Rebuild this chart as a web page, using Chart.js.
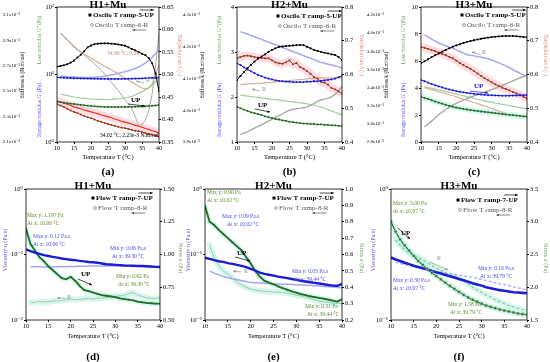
<!DOCTYPE html>
<html lang="en">
<head>
<meta charset="UTF-8">
<title>Oscillatory and flow temperature ramps</title>
<style>
  body { margin: 0; background: #fff; }
  #fig { position: relative; width: 550px; height: 362px; overflow: hidden; }
  canvas { position: absolute; }
</style>
<script src="https://cdn.jsdelivr.net/npm/chart.js"></script>
</head>
<body>
<div id="fig">
  <canvas id="pa" width="183" height="180" style="left:0;top:0"></canvas>
  <canvas id="pb" width="183" height="180" style="left:183px;top:0"></canvas>
  <canvas id="pc" width="184" height="180" style="left:366px;top:0"></canvas>
  <canvas id="pd" width="183" height="182" style="left:0;top:180px"></canvas>
  <canvas id="pe" width="183" height="182" style="left:183px;top:180px"></canvas>
  <canvas id="pf" width="184" height="182" style="left:366px;top:180px"></canvas>
</div>
<script>
const temp = [10,11,12,13,14,15,16,17,18,19,20,21,22,23,24,25,26,27,28,29,30,31,32,33,34,35,36,37,38,39,40];
const tempTicks = [10,15,20,25,30,35,40];

// (a) H1+Mu, oscillatory ramp (stiffness in 1e-3 N.m/rad)
const aStiffUp = [2.693,2.698,2.704,2.712,2.725,2.742,2.765,2.787,2.815,2.845,2.860,2.870,2.874,2.876,2.877,2.876,2.874,2.872,2.868,2.863,2.858,2.846,2.833,2.822,2.808,2.795,2.784,2.760,2.720,2.640,2.500];
const aStiffR = [null,2.96,2.93,2.90,2.88,2.855,2.83,2.81,2.785,2.76,2.74,2.715,2.69,2.665,2.635,2.605,2.57,2.54,2.505,2.47,2.435,2.40,2.365,2.30,2.23,2.24,2.27,2.35,2.48,2.70,2.96];
const aGpUp = [9.05,9.0,8.95,8.9,8.85,8.8,8.78,8.75,8.72,8.7,8.68,8.66,8.65,8.63,8.62,8.6,8.6,8.6,8.6,8.62,8.63,8.65,8.67,8.7,8.72,8.75,8.8,8.85,8.9,8.95,9.0];
const aGpR = [null,9.5,9.4,9.3,9.2,9.18,9.1,9.05,9.03,9.03,9.03,9.1,9.2,9.3,9.4,9.6,9.9,10.1,10.4,10.7,11.0,11.4,11.8,12.3,12.9,13.8,14.8,16,18,20.5,23];
const aGppUp = [3.98,3.9,3.83,3.76,3.7,3.66,3.6,3.55,3.5,3.45,3.41,3.38,3.35,3.33,3.31,3.3,3.3,3.3,3.3,3.3,3.3,3.31,3.32,3.33,3.35,3.36,3.38,3.41,3.44,3.48,3.53];
const aGppR = [null,5.14,5.0,4.88,4.75,4.64,4.56,4.48,4.42,4.37,4.33,4.3,4.28,4.27,4.26,4.26,4.28,4.32,4.37,4.43,4.49,4.6,4.75,4.97,5.25,5.55,5.9,6.4,7.0,7.8,8.9];
const aTanUp = [0.434,0.431,0.428,0.424,0.42,0.417,0.414,0.411,0.408,0.405,0.403,0.4,0.397,0.395,0.392,0.39,0.388,0.386,0.384,0.382,0.381,0.379,0.377,0.375,0.374,0.372,0.37,0.368,0.366,0.364,0.362];
const aTanAvg = [0.441,0.439,0.436,0.434,0.431,0.428,0.426,0.424,0.421,0.419,0.417,0.415,0.413,0.41,0.408,0.406,0.404,0.401,0.399,0.396,0.394,0.392,0.39,0.387,0.385,0.383,0.38,0.378,0.375,0.373,0.37];
const aTanR = [null,0.592,0.585,0.577,0.569,0.561,0.555,0.55,0.545,0.541,0.536,0.532,0.527,0.523,0.518,0.514,0.51,0.506,0.501,0.497,0.492,0.488,0.483,0.479,0.474,0.47,0.468,0.47,0.479,0.499,0.521];
const aStiffTicks = [2.1,2.3,2.5,2.7,2.9,3.1];
const aModTicks = [1,10,100];
const aTanTicks = [0.35,0.40,0.45,0.50,0.55,0.60,0.65];

// (b) H2+Mu
const bStiffUp = [4.095,4.108,4.12,4.133,4.143,4.153,4.163,4.169,4.176,4.184,4.19,4.195,4.2,4.201,4.202,4.203,4.204,4.205,4.206,4.205,4.2,4.195,4.19,4.187,4.184,4.181,4.179,4.176,4.174,4.168,4.158];
const bStiffR = [null,3.924,3.928,3.933,3.938,3.944,3.949,3.954,3.96,3.966,3.972,3.978,3.983,3.989,3.995,4.0,4.003,4.005,4.006,4.008,4.01,4.015,4.022,4.028,4.033,4.035,4.038,4.042,4.05,4.062,4.075];
const bGpUp = [2.75,2.71,2.66,2.61,2.57,2.53,2.49,2.46,2.43,2.41,2.39,2.37,2.36,2.35,2.34,2.34,2.33,2.33,2.33,2.33,2.34,2.34,2.35,2.35,2.36,2.37,2.38,2.39,2.41,2.44,2.47];
const bGpR = [null,3.45,3.42,3.4,3.37,3.34,3.31,3.28,3.25,3.22,3.19,3.16,3.13,3.1,3.07,3.04,3.01,2.98,2.95,2.92,2.89,2.86,2.83,2.8,2.77,2.75,2.73,2.71,2.69,2.67,2.64];
const bGppUp = [1.78,1.75,1.72,1.69,1.66,1.64,1.62,1.6,1.57,1.55,1.53,1.51,1.5,1.48,1.47,1.45,1.44,1.43,1.42,1.41,1.41,1.4,1.4,1.39,1.39,1.38,1.38,1.37,1.37,1.36,1.36];
const bGppR = [null,2.04,2.03,2.02,2.01,2.0,1.99,1.98,1.97,1.96,1.95,1.94,1.93,1.92,1.91,1.9,1.89,1.88,1.87,1.86,1.85,1.83,1.82,1.8,1.77,1.75,1.72,1.69,1.66,1.63,1.6];
const bTanUp = [0.648,0.652,0.655,0.656,0.654,0.652,0.65,0.649,0.648,0.648,0.642,0.636,0.633,0.632,0.636,0.642,0.63,0.634,0.622,0.617,0.61,0.602,0.592,0.588,0.578,0.576,0.57,0.56,0.556,0.55,0.544];
const bTanR = [null,0.569,0.571,0.572,0.573,0.573,0.574,0.574,0.575,0.576,0.577,0.578,0.579,0.58,0.581,0.582,0.583,0.584,0.585,0.586,0.587,0.588,0.588,0.589,0.59,0.59,0.59,0.59,0.59,0.59,0.59];
const bStiffTicks = [3.9,4.0,4.1,4.2,4.3];
const bModTicks = [1,2,3,4];
const bTanTicks = [0.4,0.5,0.6,0.7,0.8];

// (c) H3+Mu
const cStiffUp = [3.668,3.69,3.712,3.735,3.756,3.776,3.796,3.815,3.833,3.851,3.865,3.878,3.891,3.903,3.913,3.922,3.93,3.938,3.945,3.951,3.956,3.96,3.964,3.967,3.969,3.969,3.968,3.966,3.962,3.958,3.954];
const cStiffR = [null,2.965,2.995,3.03,3.065,3.1,3.13,3.158,3.184,3.208,3.227,3.245,3.262,3.278,3.293,3.308,3.323,3.337,3.35,3.362,3.377,3.392,3.408,3.423,3.44,3.457,3.474,3.49,3.506,3.522,3.539];
const cGpUp = [4.6,4.5,4.4,4.3,4.2,4.12,4.04,3.96,3.89,3.83,3.77,3.72,3.68,3.64,3.6,3.57,3.54,3.51,3.49,3.47,3.46,3.45,3.44,3.43,3.43,3.43,3.44,3.45,3.46,3.47,3.48];
const cGpR = [null,7.93,7.78,7.62,7.47,7.33,7.23,7.13,7.03,6.94,6.82,6.7,6.58,6.47,6.43,6.38,6.33,6.28,6.23,6.17,6.07,5.96,5.86,5.75,5.64,5.5,5.36,5.22,5.09,4.97,4.84];
const cGppUp = [3.36,3.27,3.18,3.09,3.0,2.92,2.84,2.76,2.68,2.61,2.55,2.5,2.45,2.41,2.37,2.33,2.3,2.26,2.23,2.2,2.17,2.14,2.11,2.07,2.04,2.01,1.99,1.96,1.93,1.9,1.88];
const cGppR = [null,4.1,4.04,3.98,3.92,3.86,3.8,3.73,3.67,3.61,3.55,3.48,3.42,3.36,3.3,3.24,3.18,3.11,3.05,2.99,2.94,2.89,2.84,2.79,2.74,2.69,2.64,2.59,2.54,2.49,2.44];
const cTanUp = [0.682,0.679,0.676,0.672,0.669,0.665,0.661,0.657,0.652,0.648,0.641,0.634,0.628,0.622,0.617,0.61,0.603,0.596,0.589,0.583,0.577,0.571,0.566,0.561,0.557,0.553,0.548,0.544,0.54,0.534,0.529];
const cTanR = [null,0.561,0.558,0.555,0.552,0.549,0.546,0.543,0.54,0.537,0.534,0.53,0.527,0.524,0.52,0.517,0.514,0.51,0.507,0.503,0.5,0.496,0.492,0.488,0.484,null,null,null,null,null,null];
const cStiffTicks = [2.8,3.0,3.2,3.4,3.6,3.8,4.0,4.2];
const cModTicks = [0,2,4,6,8,10];
const cTanTicks = [0.4,0.5,0.6,0.7,0.8];

// (d) H1+Mu, flow ramp
const dViscUp = [0.12,0.113,0.107,0.102,0.098,0.095,0.092,0.0895,0.087,0.085,0.083,0.082,0.08,0.0785,0.077,0.0762,0.075,0.073,0.071,0.0703,0.0695,0.0688,0.068,0.0677,0.0672,0.0669,0.0666,0.066,0.0655,0.0648,0.0645];
const dViscR = [null,0.065,0.065,0.0648,0.0646,0.0645,0.0645,0.0648,0.065,0.0652,0.0655,0.0658,0.066,0.0662,0.0665,0.0667,0.0668,0.067,0.067,0.067,0.067,0.0668,0.0666,0.0665,0.0662,0.066,0.0656,0.0652,0.0648,0.0645,0.064];
const dStressUp = [1.197,1.08,1.03,0.98,0.95,0.91,0.88,0.85,0.82,0.81,0.83,0.80,0.76,0.73,0.72,0.71,0.70,0.69,0.685,0.68,0.675,0.665,0.66,0.655,0.65,0.64,0.635,0.63,0.628,0.625,0.625];
const dStressR = [null,0.632,0.635,0.64,0.638,0.64,0.645,0.645,0.65,0.655,0.66,0.655,0.658,0.66,0.665,0.66,0.665,0.668,0.67,0.675,0.68,0.685,0.69,0.70,0.71,0.69,0.68,0.67,0.665,0.665,0.67];
const dViscTicks = [0.01,0.1,1];
const dStressTicks = [0.5,0.75,1.0,1.25,1.5];

// (e) H2+Mu
const eViscUp = [0.0895,0.0855,0.082,0.079,0.077,0.074,0.072,0.0695,0.067,0.064,0.0605,0.057,0.053,0.0505,0.049,0.0475,0.046,0.0448,0.0435,0.0422,0.041,0.0398,0.0387,0.0377,0.0368,0.036,0.0352,0.0342,0.0335,0.0333,0.0355];
const eViscR = [null,0.056,0.052,0.049,0.046,0.0442,0.0428,0.0413,0.04,0.0388,0.0375,0.037,0.0366,0.0363,0.036,0.0358,0.0355,0.0352,0.035,0.0347,0.0344,0.0341,0.0338,0.0335,0.0333,0.033,0.0326,0.0322,0.0318,0.0314,0.031];
const eStressUp = [0.896,0.80,0.78,0.75,0.725,0.70,0.675,0.65,0.625,0.585,0.545,0.50,0.465,0.44,0.428,0.418,0.405,0.395,0.385,0.375,0.367,0.358,0.352,0.345,0.34,0.335,0.33,0.325,0.318,0.312,0.326];
const eStressR = [null,0.66,0.58,0.53,0.50,0.479,0.455,0.432,0.415,0.40,0.388,0.383,0.378,0.376,0.373,0.371,0.369,0.367,0.364,0.358,0.352,0.347,0.34,0.33,0.322,0.315,0.311,0.307,0.303,0.301,0.30];
const eViscTicks = [0.01,0.1,1];
const eStressTicks = [0.2,0.3,0.4,0.5,0.6,0.7,0.8,0.9,1.0];

// (f) H3+Mu
const fViscUp = [0.30,0.29,0.282,0.274,0.267,0.26,0.254,0.248,0.243,0.237,0.231,0.226,0.221,0.216,0.211,0.206,0.201,0.196,0.191,0.187,0.183,0.178,0.175,0.172,0.169,0.167,0.165,0.163,0.162,0.161,0.16];
const fViscR = [null,0.275,0.27,0.265,0.26,0.255,0.25,0.246,0.242,0.238,0.235,0.232,0.229,0.226,0.223,0.22,0.217,0.214,0.211,0.208,0.204,0.2,0.196,0.192,0.189,0.186,0.183,0.179,0.176,0.173,0.17];
const fStressUp = [3.0,2.85,2.73,2.64,2.56,2.48,2.40,2.34,2.28,2.22,2.17,2.12,2.07,2.02,1.975,1.93,1.885,1.845,1.81,1.78,1.75,1.72,1.70,1.68,1.66,1.645,1.63,1.615,1.60,1.59,1.58];
const fStressR = [null,2.72,2.64,2.57,2.52,2.48,2.46,2.42,2.38,2.33,2.29,2.26,2.22,2.19,2.17,2.13,2.09,2.05,2.0,1.96,1.92,1.88,1.85,1.81,1.78,1.75,1.72,1.70,1.68,1.66,1.65];
const fViscTicks = [0.1,1];
const fStressTicks = [1.5,2.0,2.5,3.0,3.5];

const SERIF = '"Liberation Serif", "DejaVu Serif", serif';
const BLUE = '#1c1cd6', LAV = '#a6a6f2', DKGREEN = '#256b1e', LTGREEN = '#a3cc9a';
const GRAY = '#a8a8a8', BROWN = '#9c3c1a', RED = '#e8321e', TAN = '#d8b098';
const PINK = 'rgba(255,176,196,0.45)', CYAN = 'rgba(150,238,222,0.4)';
const BLUE_T = '#4a4ae6', GREEN_T = '#6aa25e', TAN_T = '#cf8a7c', OLIVE = '#5f8a2e';

const pts = v => temp.map((t, i) => ({x: t, y: v[i]}));
const sup = {'-': '⁻', '0': '⁰', '1': '¹', '2': '²', '3': '³'};
const pow10 = v => '10' + String(Math.round(Math.log10(v))).split('').map(c => sup[c]).join('');

function upLine(v, color, axis, extra) {
  return Object.assign({data: pts(v), yAxisID: axis, borderColor: color, backgroundColor: color,
    borderWidth: 1, pointStyle: 'rect', pointRadius: 1.3, pointBorderWidth: 0, pointHoverRadius: 0}, extra);
}
function rLine(v, color, axis, extra) {
  return Object.assign({data: pts(v), yAxisID: axis, borderColor: color, backgroundColor: color,
    borderWidth: 1, pointRadius: 0}, extra);
}
function band(v, color, axis, w) {
  return {data: pts(v), yAxisID: axis, borderColor: color, borderWidth: w, pointRadius: 0,
    borderCapStyle: 'round', borderJoinStyle: 'round'};
}

function xAxis(h) {
  return {
    type: 'linear', min: 10, max: 40,
    afterBuildTicks: s => { s.ticks = tempTicks.map(v => ({value: v})); },
    afterFit: s => { s.height = h; },
    ticks: {font: {family: SERIF, size: 6.5}, color: '#000', padding: 0, maxRotation: 0, autoSkip: false},
    grid: {display: true, drawOnChartArea: false, tickLength: 2, color: '#000'},
    border: {display: false},
    title: {display: true, text: 'Temperature T (°C)', font: {family: SERIF, size: 6.5}, color: '#000', padding: 0}
  };
}
function yAxis(o) {
  return {
    type: o.type || 'linear', position: o.pos, min: o.min, max: o.max, weight: o.weight || 0,
    afterBuildTicks: s => { s.ticks = o.ticks.map(v => ({value: v})); },
    afterFit: s => { s.width = o.width; },
    ticks: {font: {family: SERIF, size: o.size || 6.5}, color: '#000', padding: 1, autoSkip: false, callback: o.fmt},
    grid: {display: !o.plain, drawOnChartArea: false, drawTicks: !o.plain, tickLength: 2, color: '#000'},
    border: {display: false}
  };
}
// stiffness axis labels sit a little lower than the plot top
const stiffMax = t => t[t.length - 1] + (t[t.length - 1] - t[0]) * 8 / 127;
const stiffFmt = v => v.toFixed(1) + 'x10⁻³';

function fontStr(s, b) { return (b ? 'bold ' : '') + s + 'px ' + SERIF; }

function decoPlugin(spec) {
  return {
    id: 'deco',
    afterDraw(chart) {
      const ctx = chart.ctx, a = chart.chartArea, ox = spec.ox, oy = spec.oy;
      ctx.save();
      ctx.strokeStyle = '#000'; ctx.lineWidth = 0.8;
      ctx.strokeRect(a.left, a.top, a.right - a.left, a.bottom - a.top);
      ctx.textBaseline = 'middle';
      for (const t of spec.texts) {
        ctx.save();
        ctx.font = fontStr(t.s || 5.5, t.b);
        ctx.fillStyle = t.c || '#000';
        ctx.textAlign = t.a || (t.rot ? 'center' : 'left');
        ctx.translate(t.x - ox, t.y - oy);
        if (t.rot) ctx.rotate(t.rot * Math.PI / 180);
        ctx.fillText(t.t, 0, 0);
        ctx.restore();
      }
      const arrow = (x1, y1, x2, y2, c) => {
        ctx.strokeStyle = c || '#000'; ctx.fillStyle = c || '#000'; ctx.lineWidth = 0.7;
        ctx.beginPath(); ctx.moveTo(x1, y1); ctx.lineTo(x2, y2); ctx.stroke();
        const ang = Math.atan2(y2 - y1, x2 - x1);
        ctx.beginPath(); ctx.moveTo(x2, y2);
        ctx.lineTo(x2 - 3 * Math.cos(ang - 0.45), y2 - 3 * Math.sin(ang - 0.45));
        ctx.lineTo(x2 - 3 * Math.cos(ang + 0.45), y2 - 3 * Math.sin(ang + 0.45));
        ctx.closePath(); ctx.fill();
      };
      for (const r of spec.arrows) arrow(r.x1 - ox, r.y1 - oy, r.x2 - ox, r.y2 - oy, r.c);
      // legend
      const L = spec.legend, lx = L.x - ox, ly = L.y - oy;
      ctx.fillStyle = '#000';
      ctx.fillRect(lx - 1.5, ly - 1.5, 3, 3);
      ctx.font = fontStr(7, true); ctx.textAlign = 'left';
      ctx.fillText(L.a, lx + 3, ly);
      const wa = ctx.measureText(L.a).width;
      arrow(lx + 3 + wa - 14, ly - 5, lx + 3 + wa, ly - 5, '#000');
      ctx.strokeStyle = '#888'; ctx.lineWidth = 0.8;
      ctx.beginPath(); ctx.arc(lx + 2, ly + 10, 1.4, 0, Math.PI * 2); ctx.stroke();
      ctx.font = fontStr(7, false); ctx.fillStyle = '#555';
      ctx.fillText(L.b, lx + 5, ly + 10);
      const wb = ctx.measureText(L.b).width;
      arrow(lx + 5 + wb - 2, ly + 15, lx + 5 + wb - 16, ly + 15, '#555');
      ctx.restore();
    }
  };
}

function makeChart(id, datasets, scales, pad, spec) {
  return new Chart(document.getElementById(id), {
    type: 'line',
    data: {datasets},
    options: {
      responsive: false, animation: false, devicePixelRatio: 1,
      layout: {padding: pad},
      plugins: {legend: {display: false}, tooltip: {enabled: false}},
      elements: {line: {tension: 0}},
      scales
    },
    plugins: [decoPlugin(spec)]
  });
}

function oscScales(o) {
  return {
    x: xAxis(19),
    k: yAxis({pos: 'left', weight: 10, min: o.st[0], max: stiffMax(o.st), ticks: o.st, fmt: stiffFmt, width: o.kw, plain: true, size: 4.8}),
    g: yAxis({pos: 'left', weight: 0, type: o.gType, min: o.gt[0], max: o.gt[o.gt.length - 1], ticks: o.gt, fmt: o.gFmt, width: 36}),
    t: yAxis({pos: 'right', min: o.tt[0], max: o.tt[o.tt.length - 1], ticks: o.tt, fmt: o.tFmt, width: o.rw})
  };
}
function flowScales(o) {
  return {
    x: xAxis(20),
    v: yAxis({pos: 'left', type: 'logarithmic', min: o.vt[0], max: o.vt[o.vt.length - 1], ticks: o.vt, fmt: pow10, width: o.lw}),
    s: yAxis({pos: 'right', min: o.sTicks[0], max: o.sTicks[o.sTicks.length - 1], ticks: o.sTicks, fmt: o.sFmt, width: o.rw})
  };
}

function oscTexts(name, lab, L, R, right) {
  const cx = (L + R) / 2;
  return [
    {t: name, x: cx, y: 5, s: 11, b: true, a: 'center'},
    {t: lab, x: cx, y: 172, s: 11, b: true, a: 'center'},
    {t: 'Stiffness k (N.m/rad)', x: L - 34, y: 75, s: 5.5, rot: -90},
    {t: "Storage modulus G' (Pa)", x: L - 17, y: 110, s: 5.5, c: BLUE_T, rot: -90},
    {t: 'Loss modulus G" (Pa)', x: L - 17, y: 40, s: 5.5, c: GREEN_T, rot: -90},
    {t: 'Tan(delta) tan δ (-)', x: right, y: 55, s: 5.5, c: TAN_T, rot: 90}
  ];
}
function flowTexts(name, lab, L, R, left, right) {
  const cx = (L + R) / 2;
  return [
    {t: name, x: cx, y: 186, s: 11, b: true, a: 'center'},
    {t: lab, x: cx, y: 357, s: 11, b: true, a: 'center'},
    {t: 'Viscosity η (Pa.s)', x: left, y: 250, s: 6, c: BLUE_T, rot: -90},
    {t: 'Stress σ (Pa)', x: right, y: 258, s: 6, c: GREEN_T, rot: 90}
  ];
}

const dec = n => v => v.toFixed(n);

// (a)
makeChart('pa', [
  upLine(aStiffUp, '#000', 'k'),
  upLine(aGpUp, BLUE, 'g'),
  upLine(aGppUp, DKGREEN, 'g'),
  rLine(aTanAvg, RED, 't', {borderWidth: 1.2}),
  upLine(aTanUp, BROWN, 't'),
  rLine(aStiffR, GRAY, 'k'),
  rLine(aGpR, LAV, 'g', {borderWidth: 1.5}),
  rLine(aGppR, LTGREEN, 'g', {borderWidth: 1.2}),
  rLine(aTanR, TAN, 't', {borderWidth: 1.2}),
  band(aTanAvg, PINK, 't', 8)
], oscScales({st: aStiffTicks, kw: 21, gType: 'logarithmic', gt: aModTicks, gFmt: pow10, tt: aTanTicks, tFmt: dec(2), rw: 24}),
{left: 0, right: 0, top: 7, bottom: 19},
{ox: 0, oy: 0, legend: {x: 90, y: 15, a: 'Oscilo T ramp-5-UP', b: 'Oscilo T ramp-6-R'},
 texts: oscTexts('H1+Mu', '(a)', 57, 159, 179).concat([
  {t: '34.90 °C, 0.54', x: 107, y: 54, c: '#c48c72'},
  {t: 'R', x: 146, y: 80, s: 6, c: '#86b486'},
  {t: 'UP', x: 131, y: 100, s: 7, b: true},
  {t: '34.02 °C, 2.23e-3 N.m/rad', x: 100, y: 136}
 ]),
 arrows: [{x1: 128, y1: 104, x2: 145, y2: 106}, {x1: 144, y1: 83, x2: 136, y2: 81, c: '#86b486'}]});

// (b)
makeChart('pb', [
  upLine(bStiffUp, '#000', 'k'),
  upLine(bGpUp, BLUE, 'g'),
  upLine(bGppUp, DKGREEN, 'g'),
  upLine(bTanUp, BROWN, 't'),
  rLine(bStiffR, GRAY, 'k', {borderWidth: 1.4}),
  rLine(bGpR, LAV, 'g', {borderWidth: 1.5}),
  rLine(bGppR, LTGREEN, 'g', {borderWidth: 1.2}),
  rLine(bTanR, TAN, 't', {borderWidth: 1.2}),
  band(bTanUp, PINK, 't', 8)
], oscScales({st: bStiffTicks, kw: 18, gType: 'linear', gt: bModTicks, gFmt: v => String(v), tt: bTanTicks, tFmt: dec(1), rw: 24}),
{left: 0, right: 0, top: 7, bottom: 19},
{ox: 183, oy: 0, legend: {x: 278, y: 16, a: 'Oscilo T ramp-5-UP', b: 'Oscilo T ramp-6-R'},
 texts: oscTexts('H2+Mu', '(b)', 237, 342, 361).concat([
  {t: 'R', x: 262, y: 89, s: 6, c: '#8a9a8a'},
  {t: 'UP', x: 258, y: 105, s: 7, b: true}
 ]),
 arrows: [{x1: 255, y1: 109, x2: 270, y2: 112}, {x1: 260, y1: 91, x2: 252, y2: 89, c: '#8a9a8a'}]});

// (c)
makeChart('pc', [
  upLine(cStiffUp, '#000', 'k'),
  upLine(cGpUp, BLUE, 'g'),
  upLine(cGppUp, DKGREEN, 'g'),
  upLine(cTanUp, BROWN, 't'),
  rLine(cStiffR, GRAY, 'k', {borderWidth: 1.4}),
  rLine(cGpR, LAV, 'g', {borderWidth: 1.5}),
  rLine(cGppR, LTGREEN, 'g', {borderWidth: 1.2}),
  rLine(cTanR, TAN, 't', {borderWidth: 1.2}),
  band(cTanUp, PINK, 't', 8),
  band(cGppUp, CYAN, 'g', 6)
], oscScales({st: cStiffTicks, kw: 19, gType: 'linear', gt: cModTicks, gFmt: v => String(v), tt: cTanTicks, tFmt: dec(1), rw: 23}),
{left: 0, right: 0, top: 7, bottom: 19},
{ox: 366, oy: 0, legend: {x: 462, y: 15, a: 'Oscilo T ramp-5-UP', b: 'Oscilo T ramp-6-R'},
 texts: oscTexts('H3+Mu', '(c)', 421, 527, 545).concat([
  {t: 'R', x: 482, y: 52, s: 6, c: '#8a9a8a'},
  {t: 'UP', x: 474, y: 86, s: 7, b: true, c: BLUE}
 ]),
 arrows: [{x1: 470, y1: 91, x2: 488, y2: 93, c: BLUE}, {x1: 481, y1: 55, x2: 472, y2: 52, c: '#8a9a8a'}]});

// (d)
makeChart('pd', [
  rLine(dViscUp, BLUE, 'v', {borderWidth: 2.4}),
  upLine(dStressUp, DKGREEN, 's', {borderWidth: 1.8, pointRadius: 1}),
  rLine(dViscR, LAV, 'v', {borderWidth: 1.5}),
  rLine(dStressR, LTGREEN, 's', {borderWidth: 1}),
  band(dStressR, CYAN, 's', 6),
  band(dStressUp, CYAN, 's', 5)
], flowScales({vt: dViscTicks, sTicks: dStressTicks, sFmt: dec(2), lw: 26, rw: 23}),
{left: 0, right: 0, top: 9, bottom: 22},
{ox: 0, oy: 180, legend: {x: 93, y: 198, a: 'Flow T ramp-7-UP', b: 'Flow T ramp-8-R'},
 texts: flowTexts('H1+Mu', '(d)', 26, 160, 5, 181).concat([
  {t: 'Max y: 1.197 Pa', x: 27, y: 216, c: OLIVE},
  {t: 'At x: 10.06 °C', x: 27, y: 223.5, c: OLIVE},
  {t: 'Max y: 0.12 Pa.s', x: 33, y: 237, c: BLUE_T},
  {t: 'At x: 10.06 °C', x: 33, y: 244.5, c: BLUE_T},
  {t: 'Min y: 0.06 Pa.s', x: 110, y: 249, c: BLUE_T},
  {t: 'At x: 39.30 °C', x: 112, y: 256.5, c: BLUE_T},
  {t: 'Min y: 0.62 Pa', x: 116, y: 277, c: OLIVE},
  {t: 'At x: 39.30 °C', x: 118, y: 284.5, c: OLIVE},
  {t: 'UP', x: 81, y: 274, s: 7, b: true},
  {t: 'R', x: 67, y: 297, s: 6, c: '#8a9a8a'}
 ]),
 arrows: [{x1: 78, y1: 279, x2: 92, y2: 285}, {x1: 65, y1: 298, x2: 57, y2: 298, c: '#8a9a8a'}]});

// (e)
makeChart('pe', [
  rLine(eViscUp, BLUE, 'v', {borderWidth: 2.4}),
  upLine(eStressUp, DKGREEN, 's', {borderWidth: 1.8, pointRadius: 1}),
  rLine(eViscR, LAV, 'v', {borderWidth: 1.5}),
  rLine(eStressR, LTGREEN, 's', {borderWidth: 1}),
  band(eStressR, CYAN, 's', 6),
  band(eStressUp, CYAN, 's', 5)
], flowScales({vt: eViscTicks, sTicks: eStressTicks, sFmt: dec(1), lw: 22, rw: 24}),
{left: 0, right: 0, top: 9, bottom: 22},
{ox: 183, oy: 180, legend: {x: 274, y: 198, a: 'Flow T ramp-7-UP', b: 'Flow T ramp-8-R'},
 texts: flowTexts('H2+Mu', '(e)', 205, 342, 188, 362).concat([
  {t: 'Max y: 0.90 Pa', x: 207, y: 193, c: OLIVE},
  {t: 'At x: 10.02 °C', x: 207, y: 200.5, c: OLIVE},
  {t: 'Max y: 0.09 Pa.s', x: 222, y: 217, c: BLUE_T},
  {t: 'At x: 10.02 °C', x: 227, y: 224.5, c: BLUE_T},
  {t: 'UP', x: 237, y: 253, s: 7, b: true},
  {t: 'R', x: 244, y: 271, s: 6, c: '#8a9a8a'},
  {t: 'Min y: 0.03 Pa.s', x: 292, y: 272, c: BLUE_T},
  {t: 'At x: 39.44 °C', x: 294, y: 280, c: BLUE_T},
  {t: 'Min y: 0.31 Pa', x: 305, y: 307, c: OLIVE},
  {t: 'At x: 39.44 °C', x: 307, y: 315, c: OLIVE}
 ]),
 arrows: [{x1: 235, y1: 257, x2: 250, y2: 261}, {x1: 241, y1: 272, x2: 233, y2: 271, c: '#8a9a8a'}]});

// (f)
makeChart('pf', [
  upLine(fStressUp, DKGREEN, 's', {borderWidth: 1.2, pointRadius: 1.9, pointBorderWidth: 0.5, pointBorderColor: '#c8ead8'}),
  rLine(fViscUp, BLUE, 'v', {borderWidth: 2.6}),
  rLine(fViscR, LAV, 'v', {borderWidth: 1.3, borderDash: [3, 2]}),
  rLine(fStressR, '#8fc48a', 's', {borderWidth: 1.2, borderDash: [3, 2]}),
  band(fStressR, CYAN, 's', 6),
  band(fStressUp, CYAN, 's', 6)
], flowScales({vt: fViscTicks, sTicks: fStressTicks, sFmt: dec(1), lw: 25, rw: 23}),
{left: 0, right: 0, top: 9, bottom: 22},
{ox: 366, oy: 180, legend: {x: 458, y: 200, a: 'Flow T ramp-7-UP', b: 'Flow T ramp-8-R'},
 texts: flowTexts('H3+Mu', '(f)', 391, 527, 373, 546).concat([
  {t: 'Max y: 3.00 Pa', x: 393, y: 204, c: OLIVE},
  {t: 'At x: 10.07 °C', x: 393, y: 212, c: OLIVE},
  {t: 'UP', x: 401, y: 233, s: 7, b: true},
  {t: 'R', x: 437, y: 258, s: 6, c: '#8a9a8a'},
  {t: 'Min y: 0.16 Pa.s', x: 478, y: 269, c: BLUE_T},
  {t: 'At x: 39.79 °C', x: 480, y: 277, c: BLUE_T},
  {t: 'Max y: 0.30 Pa.s', x: 393, y: 281, c: BLUE_T},
  {t: 'At x: 10.07 °C', x: 393, y: 289, c: BLUE_T},
  {t: 'Min y: 1.58 Pa', x: 448, y: 305, c: OLIVE},
  {t: 'At x: 39.79 °C', x: 450, y: 313, c: OLIVE}
 ]),
 arrows: [{x1: 398, y1: 228, x2: 410, y2: 239}, {x1: 430, y1: 262, x2: 448, y2: 270, c: '#8a9a8a'}]});
</script>
</body>
</html>
